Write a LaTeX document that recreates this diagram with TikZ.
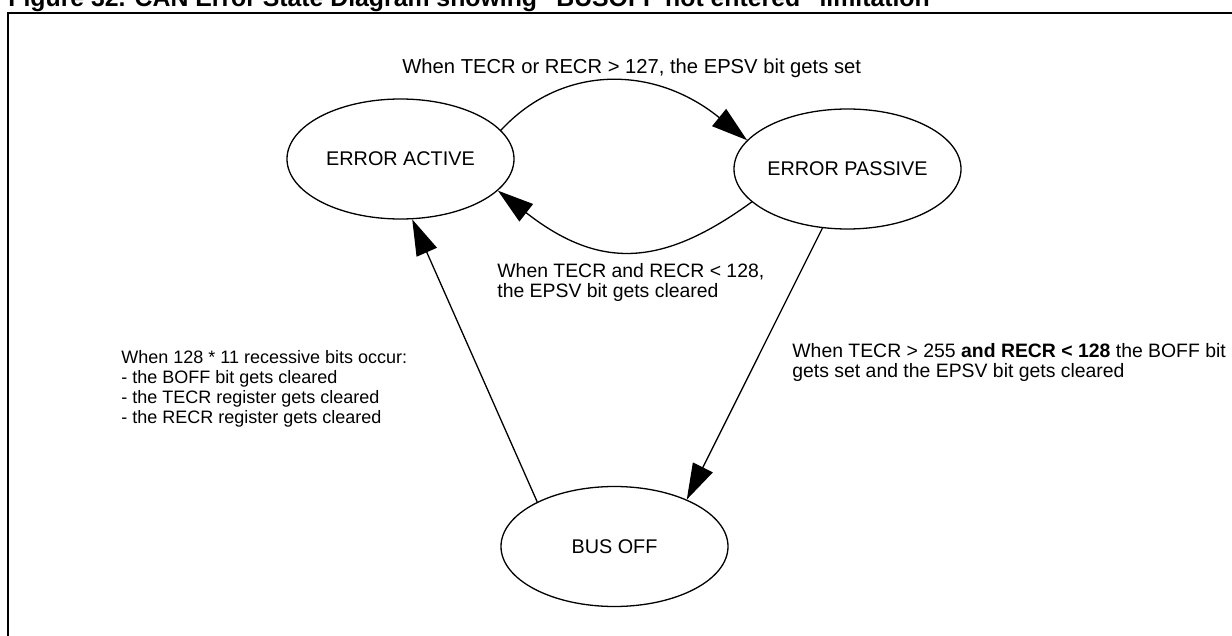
\documentclass[tikz,border=0pt]{standalone}
\usepackage{fontspec}
\setmainfont{Liberation Sans}
\usepackage{xcolor}
\usepackage{tikz}
\usetikzlibrary{positioning,shapes.geometric,arrows.meta}
\definecolor{ink}{HTML}{000000}

\begin{document}
\begin{tikzpicture}[x=0.5pt,y=-0.5pt,
  state/.style={ellipse, draw=ink, line width=0.65pt, minimum width=113.5pt,
                minimum height=60pt, inner sep=0pt, text=ink,
                font=\fontsize{9.9}{10}\selectfont},
  note/.style={anchor=north west, inner sep=0pt, align=left, text=ink,
               font=\fontsize{9.7}{10}\selectfont},
  trans/.style={draw=ink, line width=0.65pt, -{Triangle[length=18pt,width=11pt]}}]
\clip (0,0) rectangle (1232,636);
\draw[ink, line width=1pt] (1232,12.7) -| (7.7,636);
\node[anchor=base west, inner sep=0pt, text=ink,
      font=\fontsize{12.4}{14}\selectfont\bfseries] (title) at (8,7)
  {Figure 32. CAN Error State Diagram showing "BUSOFF not entered" limitation};

\node[state] (act) at (400.5,159) {ERROR ACTIVE};
\node[state] (pas) at (847.5,169) {ERROR PASSIVE};
\node[state] (bus) at (614.5,546.5) {BUS OFF};

\node[note, font=\fontsize{10.1}{10}\selectfont] (setlbl) at (402,58) {When TECR or RECR > 127, the EPSV bit gets set};
\node[note] (clrlbl) at (497,263) {When TECR and RECR < 128,\\the EPSV bit gets cleared};
\node[note, font=\fontsize{9.0}{10}\selectfont] (recovlbl) at (121,350) {When 128 * 11 recessive bits occur:\\- the BOFF bit gets cleared\\- the TECR register gets cleared\\- the RECR register gets cleared};
\node[note] (offlbl) at (792,343) {When TECR > 255 \textbf{and RECR < 128} the BOFF bit\\gets set and the EPSV bit gets cleared};

\draw[trans] (act.16) .. controls +(61,-66) and +(-93,-75.5) .. (pas.164);
\draw[trans] (pas.199) .. controls +(-89,64.7) and +(102.4,80) .. (act.342);
\draw[trans] (pas.247) -- (bus.33);
\draw[trans] (bus.150) -- (act.281);
\end{tikzpicture}
\end{document}
